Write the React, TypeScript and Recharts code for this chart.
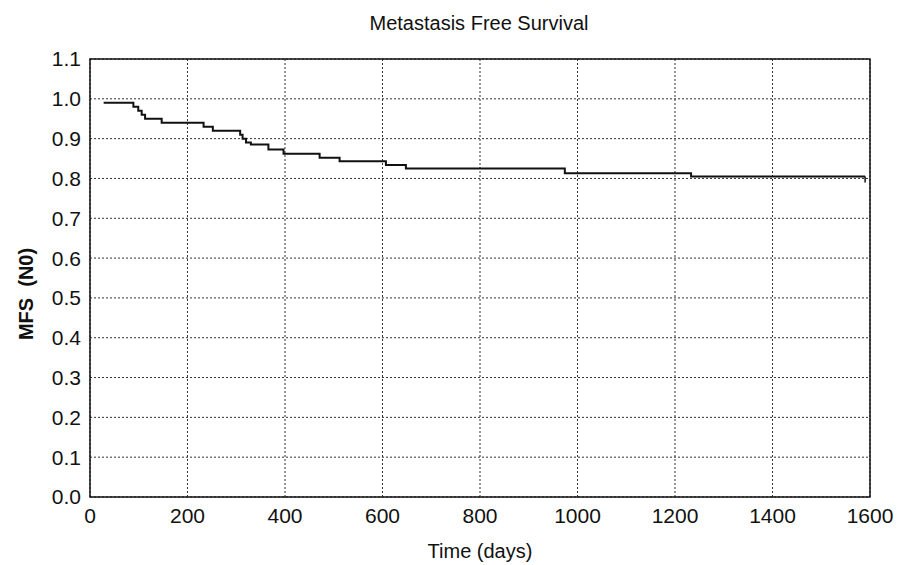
import { LineChart, Line, XAxis, YAxis, CartesianGrid, ReferenceArea, Label } from "recharts";

// Kaplan-Meier steps: event times (days) and survival after each step
const days = [28, 89, 99, 106, 113, 147, 233, 252, 308, 313, 320, 330, 366, 397, 471, 512, 607, 648, 974, 1233, 1590];
const mfs = [0.99, 0.98, 0.97, 0.96, 0.95, 0.94, 0.93, 0.92, 0.91, 0.9, 0.89, 0.885, 0.873, 0.862, 0.852, 0.843, 0.834, 0.825, 0.813, 0.805, 0.805];

const xTicks = [0, 200, 400, 600, 800, 1000, 1200, 1400, 1600];
const yTicks = [0, 0.1, 0.2, 0.3, 0.4, 0.5, 0.6, 0.7, 0.8, 0.9, 1.0, 1.1];

const data = days.map((d, i) => ({ day: d, mfs: mfs[i] }));

const FONT = "'Liberation Sans', Arial, sans-serif";

// censored observation mark on the last point
function CensorDot(props: any) {
    const { cx, cy, index } = props;
    if (index !== data.length - 1) return <g key={`d${index}`} />;
    return <line key={`d${index}`} x1={cx} y1={cy} x2={cx} y2={cy + 6} stroke="#111" strokeWidth={1.5} />;
}

export default function App() {
    return (
        <div style={{ position: "absolute", left: 0, top: 0, background: "#fff" }}>
            <LineChart width={909} height={565} data={data} margin={{ top: 59, right: 39, left: 0, bottom: 0 }}>
                <CartesianGrid stroke="#333" strokeDasharray="2 2" strokeWidth={1} />
                <XAxis
                    dataKey="day"
                    type="number"
                    domain={[0, 1600]}
                    ticks={xTicks}
                    height={68}
                    tickLine={false}
                    axisLine={false}
                    tickSize={0}
                    tickMargin={11}
                    tick={{ fontSize: 21, fill: "#111", fontFamily: FONT }}
                >
                    <Label
                        content={() => (
                            <g>
                                <text x={479} y={30} textAnchor="middle" fontSize={20} fill="#111" fontFamily={FONT}>
                                    Metastasis Free Survival
                                </text>
                                <text x={480} y={558} textAnchor="middle" fontSize={20} fill="#111" fontFamily={FONT}>
                                    Time (days)
                                </text>
                            </g>
                        )}
                    />
                </XAxis>
                <YAxis
                    type="number"
                    domain={[0, 1.1]}
                    ticks={yTicks}
                    width={90}
                    tickLine={false}
                    axisLine={false}
                    tickSize={0}
                    tickMargin={9}
                    tickFormatter={(v: number) => v.toFixed(1)}
                    tick={{ fontSize: 21, fill: "#111", fontFamily: FONT }}
                >
                    <Label
                        content={() => (
                            <text
                                x={33}
                                y={294}
                                transform="rotate(-90, 33, 294)"
                                textAnchor="middle"
                                fontSize={20}
                                fontWeight="bold"
                                fill="#111"
                                fontFamily={FONT}
                            >
                                {"MFS\u00a0\u00a0(N0)"}
                            </text>
                        )}
                    />
                </YAxis>
                <ReferenceArea x1={0} x2={1600} y1={0} y2={1.1} fill="none" stroke="#111" strokeWidth={1.5} />
                <Line
                    type="stepAfter"
                    dataKey="mfs"
                    stroke="#111"
                    strokeWidth={2}
                    dot={<CensorDot />}
                    activeDot={false}
                    isAnimationActive={false}
                />
            </LineChart>
        </div>
    );
}
